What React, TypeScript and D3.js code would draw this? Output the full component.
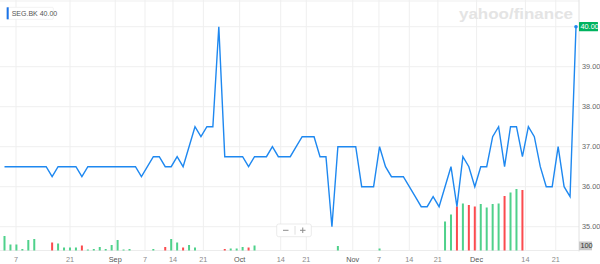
import React from "react";
import * as d3 from "d3";

// SEG.BK daily closes (one per trading day)
const prices: number[] = [
  36.5, 36.5, 36.5, 36.5, 36.5, 36.5, 36.5, 36.5, 36.25, 36.5,
  36.5, 36.5, 36.5, 36.25, 36.5, 36.5, 36.5, 36.5, 36.5, 36.5,
  36.5, 36.5, 36.5, 36.25, 36.5, 36.75, 36.75, 36.5, 36.5, 36.75,
  36.5, 37.0, 37.5, 37.25, 37.5, 37.5, 40.0, 36.75, 36.75, 36.75,
  36.75, 36.5, 36.75, 36.75, 36.75, 37.0, 36.75, 36.75, 36.75, 37.0,
  37.25, 37.25, 37.25, 36.75, 36.75, 35.0, 37.0, 37.0, 37.0, 37.0,
  36.0, 36.0, 36.0, 37.0, 36.5, 36.25, 36.25, 36.25, 36.0, 35.75,
  35.5, 35.5, 35.75, 35.5, 36.0, 36.5, 35.5, 36.75, 36.5, 36.0,
  36.5, 36.5, 37.25, 37.5, 36.5, 37.5, 37.5, 36.75, 37.5, 37.25,
  36.5, 36.0, 36.0, 37.0, 36.0, 35.75, 40.0,
];

// daily volume (relative units)
const volumes: number[] = [
  14.5, 6, 6, 1.5, 10.5, 11.5, 0, 0, 8, 7,
  3, 3, 3, 5, 1, 1.5, 3.5, 1.5, 5.5, 10.5,
  1, 1.5, 0, 0, 0, 1.5, 0, 3.5, 11.5, 8,
  3, 5.5, 3, 0, 0, 0, 0, 1.5, 2, 2,
  3.5, 3, 5, 0, 0, 0, 0, 0, 0, 0,
  0, 0, 0, 0, 0, 0, 4.5, 0, 0, 0,
  0, 0, 0, 2, 0, 0, 0, 0, 0, 0,
  0, 0, 0, 0, 29, 36, 44, 47, 45.5, 44,
  46.5, 43, 46.5, 47, 54.5, 58, 61.5, 60.5, 0, 0,
  0, 0, 0, 0, 0, 0, 0,
];

const priceTicks: number[] = [35, 36, 37, 38, 39, 40];
const xTickLabels: string[] = ["7", "21", "Sep", "7", "14", "21", "Oct", "14", "21", "Nov", "7", "14", "21", "Dec", "14", "21"];
const xTickIndex: number[] = [1.93, 11.0, 18.6, 23.6, 28.3, 33.4, 39.5, 46.4, 50.7, 58.5, 62.9, 68.0, 72.8, 79.3, 87.5, 92.6];
const monthLabels = new Set(["Sep", "Oct", "Nov", "Dec"]);
const symbol = "SEG.BK";

const W = 600;
const H = 264;
const FONT = "'Liberation Sans', Arial, Helvetica, sans-serif";

export default function App() {
  const n = prices.length;
  const x = d3.scaleLinear().domain([0, n - 1]).range([4.5, 576]);
  const y = d3.scaleLinear().domain([35, 40]).range([226.7, 26.7]);
  const baseY = 250.5;
  const v = d3.scaleLinear().domain([0, 64]).range([baseY, baseY - 64]);
  const axisX = 579;

  const line = d3
    .line<number>()
    .x((_, i) => x(i))
    .y((d) => y(d));

  const last = prices[n - 1];
  const green = "#4fd18b";
  const red = "#fb4b4e";
  const blue = "#1e88f0";

  return (
    <svg
      width={W}
      height={H}
      style={{ position: "absolute", left: 0, top: 0, background: "#fff" }}
      fontFamily={FONT}
    >
      {/* top border */}
      <line x1={0} x2={axisX} y1={1} y2={1} stroke="#efefef" />
      {/* horizontal grid */}
      {priceTicks.map((t) => (
        <line key={"h" + t} x1={0} x2={axisX} y1={y(t)} y2={y(t)} stroke="#efefef" />
      ))}
      <line x1={0} x2={axisX} y1={baseY} y2={baseY} stroke="#ececec" />
      {/* vertical grid */}
      {xTickIndex.map((t, i) => (
        <line key={"v" + i} x1={x(t)} x2={x(t)} y1={0} y2={baseY} stroke="#efefef" />
      ))}
      {/* right axis line */}
      <line x1={axisX} x2={axisX} y1={0} y2={baseY + 1} stroke="#e2e2e2" />

      {/* watermark */}
      <text
        x={459}
        y={19}
        fontSize={15}
        fontWeight={700}
        fill="#e4e4e4"
        textLength={114}
        lengthAdjust="spacingAndGlyphs"
      >
        yahoo/finance
      </text>

      {/* volume bars */}
      {volumes.map((vol, i) => {
        if (vol <= 0) return null;
        const up = i === 0 || prices[i] >= prices[i - 1];
        return (
          <rect
            key={"b" + i}
            x={x(i) - 1}
            y={v(vol)}
            width={2}
            height={baseY - v(vol)}
            fill={up ? green : red}
          />
        );
      })}

      {/* price line */}
      <path d={line(prices) || ""} fill="none" stroke={blue} strokeWidth={1.4} strokeLinejoin="miter" />
      <circle cx={x(n - 1)} cy={y(last)} r={1.8} fill={blue} />

      {/* right price labels */}
      {priceTicks
        .filter((t) => t !== 40)
        .map((t) => (
          <text key={"l" + t} x={582} y={y(t)} dy="0.35em" fontSize={7.3} fill="#666">
            {t.toFixed(2)}
          </text>
        ))}
      <rect x={579} y={y(last) - 4.6} width={19} height={9.2} fill="#00b35f" rx={0.5} />
      <text x={580.5} y={y(last)} dy="0.35em" fontSize={7.3} fill="#fff">
        {last.toFixed(2)}
      </text>
      <rect x={579} y={241.5} width={13} height={8.8} fill="#c9c9c9" />
      <text x={580.5} y={245.9} dy="0.35em" fontSize={7.3} fill="#333">
        100
      </text>

      {/* x labels */}
      {xTickLabels.map((lab, i) => (
        <text
          key={"x" + i}
          x={x(xTickIndex[i])}
          y={261.5}
          textAnchor="middle"
          fontSize={7.3}
          fill={monthLabels.has(lab) ? "#555" : "#8a8a8a"}
        >
          {lab}
        </text>
      ))}

      {/* legend */}
      <rect x={6.7} y={7.3} width={46.6} height={12} fill="#fff" stroke="#eaeaea" strokeWidth={0.6} rx={1} />
      <rect x={6.7} y={7.3} width={2} height={12} fill="#1a73e8" />
      <text x={11.7} y={13.3} dy="0.35em" fontSize={7} fill="#555">
        {symbol} {last.toFixed(2)}
      </text>

      {/* zoom control */}
      <rect x={276.7} y={224} width={34.6} height={12.7} fill="#fff" stroke="#e3e3e3" strokeWidth={0.7} rx={2} />
      <line x1={295} x2={295} y1={226} y2={234.7} stroke="#e0e0e0" />
      <line x1={283} x2={288.5} y1={230.3} y2={230.3} stroke="#8c8c8c" strokeWidth={1} />
      <line x1={300} x2={305.5} y1={230.3} y2={230.3} stroke="#8c8c8c" strokeWidth={1} />
      <line x1={302.75} x2={302.75} y1={227.5} y2={233} stroke="#8c8c8c" strokeWidth={1} />
    </svg>
  );
}
